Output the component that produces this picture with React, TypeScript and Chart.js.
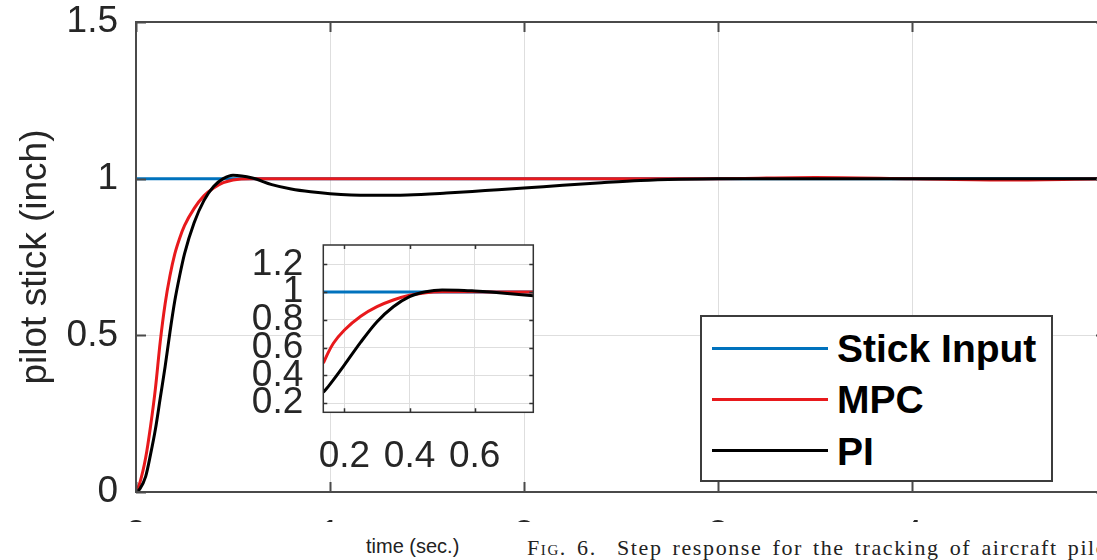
import { useEffect, useRef } from 'react';
import { Chart, registerables } from 'chart.js';

Chart.register(...registerables);

// ---------- data ----------
const seriesLabels = ['Stick Input', 'MPC', 'PI'];
const seriesColors = ['#0072bd', '#e8191c', '#000000'];

const stickTime = [0, 5];
const stickInput = [1, 1];

const timeSec = [0, 0.02, 0.05, 0.075, 0.1, 0.125, 0.15, 0.175, 0.2, 0.225, 0.25, 0.3, 0.35, 0.4, 0.45, 0.5, 0.6, 0.7, 0.8, 0.9, 1.0, 1.2, 1.4, 1.6, 1.8, 2.0, 2.2, 2.4, 2.6, 2.8, 3.0, 3.5, 4.0, 4.5, 5.0];
const mpcResponse = [0, 0.03, 0.11, 0.21, 0.33, 0.48, 0.6, 0.69, 0.76, 0.81, 0.85, 0.905, 0.945, 0.97, 0.987, 0.996, 1.0, 1.0, 1.0, 1.0, 1.0, 1.0, 1.0, 1.0, 1.0, 1.0, 1.0, 1.0, 1.0, 1.0, 1.0, 1.004, 1.0, 0.996, 1.0];
const piResponse = [0, 0.01, 0.05, 0.12, 0.2, 0.3, 0.4, 0.51, 0.61, 0.69, 0.76, 0.86, 0.93, 0.975, 1.0, 1.011, 1.002, 0.981, 0.967, 0.958, 0.952, 0.947, 0.948, 0.954, 0.962, 0.97, 0.979, 0.987, 0.994, 0.998, 1.0, 1.0, 1.0, 1.0, 1.0];

const insetStickTime = [0.135, 0.78];
const insetStick = [1, 1];
const insetTime = [0.135, 0.15, 0.166, 0.2, 0.25, 0.3, 0.35, 0.4, 0.45, 0.5, 0.55, 0.6, 0.65, 0.7, 0.78];
const insetMpc = [0.488, 0.565, 0.632, 0.727, 0.826, 0.895, 0.943, 0.977, 0.995, 1.002, 1.003, 1.002, 1.001, 1.0, 1.0];
const insetPi = [0.279, 0.32, 0.368, 0.476, 0.64, 0.787, 0.895, 0.968, 1.003, 1.015, 1.014, 1.008, 1.0, 0.99, 0.974];

const mainXTicks = [0, 1, 2, 3, 4, 5];
const mainYTicks = [0, 0.5, 1, 1.5];
const insetXTicks = [0.2, 0.4, 0.6];
const insetYTicks = [0.2, 0.4, 0.6, 0.8, 1, 1.2];

const yTitle = 'pilot stick (inch)';
const xTitle = 'time (sec.)';
const captionLabel = 'Fig. 6.';
const captionText = 'Step response for the tracking of aircraft pilot stick input.';

// ---------- styling ----------
const SANS = '"Liberation Sans", Arial, sans-serif';
const TEXT = '#262626';
const GRID = '#dedede';

const toPoints = (xs: number[], ys: number[]) => xs.map((x, i) => ({ x, y: ys[i] }));

const framePlugin = {
  id: 'frame',
  beforeDraw(chart: any, _a: any, opts: any) {
    if (!opts.fill) return;
    const { ctx, chartArea } = chart;
    ctx.save();
    ctx.fillStyle = opts.fill;
    ctx.fillRect(chartArea.left, chartArea.top, chartArea.right - chartArea.left, chartArea.bottom - chartArea.top);
    ctx.restore();
  },
  afterDraw(chart: any, _a: any, opts: any) {
    const { ctx, chartArea } = chart;
    const { left, top, right, bottom } = chartArea;
    const xs = chart.scales.x;
    const ys = chart.scales.y;
    const L = opts.tickLen;
    ctx.save();
    ctx.strokeStyle = opts.color;
    ctx.lineWidth = opts.width;
    ctx.beginPath();
    xs.ticks.forEach((t: any) => {
      const px = Math.round(xs.getPixelForValue(t.value)) + 0.5;
      ctx.moveTo(px, bottom);
      ctx.lineTo(px, bottom - L);
      ctx.moveTo(px, top);
      ctx.lineTo(px, top + L);
    });
    ys.ticks.forEach((t: any) => {
      const py = Math.round(ys.getPixelForValue(t.value)) + 0.5;
      ctx.moveTo(left, py);
      ctx.lineTo(left + L, py);
      ctx.moveTo(right, py);
      ctx.lineTo(right - L, py);
    });
    ctx.stroke();
    ctx.strokeRect(left, top, right - left, bottom - top);
    ctx.restore();
  },
};

const lineDs = (label: string, color: string, data: any[], order: number) => ({
  label,
  data,
  borderColor: color,
  backgroundColor: color,
  borderWidth: 3,
  pointRadius: 0,
  fill: false,
  cubicInterpolationMode: 'monotone' as const,
  order,
});

const fixX = (h: number) => (s: any) => {
  s.height = h;
  s.paddingLeft = 0;
  s.paddingRight = 0;
  s.paddingTop = 0;
  s.paddingBottom = 0;
};
const fixY = (w: number) => (s: any) => {
  s.width = w;
  s.paddingLeft = 0;
  s.paddingRight = 0;
  s.paddingTop = 0;
  s.paddingBottom = 0;
};

function MainChart() {
  const ref = useRef<HTMLCanvasElement | null>(null);
  useEffect(() => {
    if (!ref.current) return;
    const chart = new Chart(ref.current, {
      type: 'line',
      data: {
        datasets: [
          lineDs(seriesLabels[0], seriesColors[0], toPoints(stickTime, stickInput), 3),
          lineDs(seriesLabels[1], seriesColors[1], toPoints(timeSec, mpcResponse), 2),
          lineDs(seriesLabels[2], seriesColors[2], toPoints(timeSec, piResponse), 1),
        ],
      },
      options: {
        animation: false,
        responsive: false,
        devicePixelRatio: 1,
        events: [],
        layout: { padding: { top: 22, right: 14, left: 0, bottom: 0 } },
        plugins: {
          legend: { display: false },
          tooltip: { enabled: false },
          frame: { color: '#4a4a4a', width: 2, tickLen: 10 },
        } as any,
        scales: {
          x: {
            type: 'linear',
            min: 0,
            max: 5,
            afterBuildTicks: (s: any) => { s.ticks = mainXTicks.map((v) => ({ value: v })); },
            afterFit: fixX(68),
            grid: { color: GRID, drawTicks: false, lineWidth: 1 },
            border: { display: false },
            ticks: {
              autoSkip: false, maxRotation: 0, padding: 22, color: TEXT,
              font: { family: SANS, size: 37 },
              callback: (v: any) => String(v),
            },
          },
          y: {
            type: 'linear',
            min: 0,
            max: 1.5,
            afterBuildTicks: (s: any) => { s.ticks = mainYTicks.map((v) => ({ value: v })); },
            afterFit: fixY(136),
            grid: { color: GRID, drawTicks: false, lineWidth: 1 },
            border: { display: false },
            title: {
              display: true, text: yTitle, color: TEXT,
              font: { family: SANS, size: 37 },
              padding: { top: 14, bottom: 0 },
            },
            ticks: {
              autoSkip: false, padding: 18, color: TEXT,
              font: { family: SANS, size: 37 },
              callback: (v: any) => String(v),
            },
          },
        },
      },
      plugins: [framePlugin as any],
    });
    return () => chart.destroy();
  }, []);
  return <canvas ref={ref} width={1120} height={560} style={{ display: 'block' }} />;
}

function InsetChart() {
  const ref = useRef<HTMLCanvasElement | null>(null);
  useEffect(() => {
    if (!ref.current) return;
    const chart = new Chart(ref.current, {
      type: 'line',
      data: {
        datasets: [
          lineDs(seriesLabels[0], seriesColors[0], toPoints(insetStickTime, insetStick), 3),
          lineDs(seriesLabels[1], seriesColors[1], toPoints(insetTime, insetMpc), 2),
          lineDs(seriesLabels[2], seriesColors[2], toPoints(insetTime, insetPi), 1),
        ],
      },
      options: {
        animation: false,
        responsive: false,
        devicePixelRatio: 1,
        events: [],
        layout: { padding: { top: 10, right: 16.7, left: 0, bottom: 0 } },
        plugins: {
          legend: { display: false },
          tooltip: { enabled: false },
          frame: { color: '#333333', width: 1.5, tickLen: 4, fill: '#ffffff' },
        } as any,
        scales: {
          x: {
            type: 'linear',
            min: 0.135,
            max: 0.78,
            afterBuildTicks: (s: any) => { s.ticks = insetXTicks.map((v) => ({ value: v })); },
            afterFit: fixX(67.7),
            grid: { color: GRID, drawTicks: false, lineWidth: 1 },
            border: { display: false },
            ticks: {
              autoSkip: false, maxRotation: 0, padding: 22, color: TEXT,
              font: { family: SANS, size: 37 },
              callback: (v: any) => String(v),
            },
          },
          y: {
            type: 'linear',
            min: 0.135,
            max: 1.339,
            afterBuildTicks: (s: any) => { s.ticks = insetYTicks.map((v) => ({ value: v })); },
            afterFit: fixY(83.3),
            grid: { color: GRID, drawTicks: false, lineWidth: 1 },
            border: { display: false },
            ticks: {
              autoSkip: false, padding: 20, color: TEXT,
              font: { family: SANS, size: 37 },
              callback: (v: any) => String(v),
            },
          },
        },
      },
      plugins: [framePlugin as any],
    });
    return () => chart.destroy();
  }, []);
  return <canvas ref={ref} width={310} height={245} style={{ display: 'block' }} />;
}

export default function App() {
  return (
    <div style={{ position: 'absolute', left: 0, top: 0, width: 1097, height: 560, overflow: 'hidden', background: '#fff' }}>
      <div style={{ position: 'absolute', left: 0, top: 0, width: 1097, height: 522, overflow: 'hidden' }}>
        <MainChart />
      </div>
      <div style={{ position: 'absolute', left: 240, top: 235 }}>
        <InsetChart />
      </div>
      <div style={{
        position: 'absolute', left: 700, top: 315, width: 353, height: 167, boxSizing: 'border-box',
        border: '2px solid #3c3c3c', background: '#fff',
      }}>
        {seriesLabels.map((lab, i) => (
          <div key={lab} style={{ position: 'absolute', left: 10, top: 10 + i * 51.3, height: 44, width: 340 }}>
            <div style={{ position: 'absolute', left: 0, top: 19.5, width: 116, height: 3, background: seriesColors[i] }} />
            <div style={{
              position: 'absolute', left: 125, top: 0, height: 44, lineHeight: '44px',
              fontFamily: SANS, fontWeight: 700, fontSize: 39, color: '#000', whiteSpace: 'nowrap',
            }}>{lab}</div>
          </div>
        ))}
      </div>
      <div style={{ position: 'absolute', left: 366, top: 535.7, fontFamily: SANS, fontSize: 20, lineHeight: '20px', color: '#222', whiteSpace: 'nowrap' }}>
        {xTitle}
      </div>
      <div style={{
        position: 'absolute', left: 527, top: 536, fontFamily: '"Liberation Serif", serif', fontSize: 22, lineHeight: '24px',
        color: '#222', whiteSpace: 'nowrap', letterSpacing: '1.6px', wordSpacing: '3px',
      }}>
        <span style={{ fontVariant: 'small-caps' }}>{captionLabel}</span>{'\u00a0 '}{captionText}
      </div>
    </div>
  );
}
